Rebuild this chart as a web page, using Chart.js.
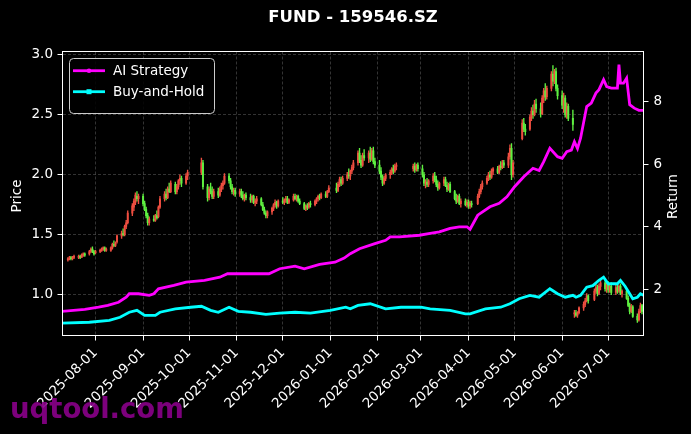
<!DOCTYPE html>
<html>
<head>
<meta charset="utf-8">
<title>FUND - 159546.SZ</title>
<script src="https://cdn.jsdelivr.net/npm/chart.js@4.4.1/dist/chart.umd.min.js"></script>
<style>
  html, body { margin: 0; padding: 0; background: #000; }
  #wrap { width: 691px; height: 434px; }
</style>
</head>
<body>
<div id="wrap"><canvas id="chart" width="691" height="434"></canvas></div>
<script>
// ---- data ----
var chartTitle = 'FUND - 159546.SZ';

// trading calendar
var firstTradeDay = '2025-07-14';
var lastTradeDay = '2026-07-23';
var holidays = ['2025-10-01', '2025-10-02', '2025-10-03', '2025-10-06', '2025-10-07', '2025-10-08',
  '2026-01-01', '2026-01-02', '2026-02-16', '2026-02-17', '2026-02-18', '2026-02-19', '2026-02-20',
  '2026-02-23', '2026-04-06', '2026-05-01', '2026-05-04', '2026-05-05', '2026-06-19'];

// daily candles, one row per month
var open = [
  1.29,1.30,1.31,1.30,1.31, 1.31,1.32,1.31,1.33,1.34, 1.34,1.36,1.38,1.36,
  1.35, 1.36,1.37,1.38,1.39,1.37, 1.37,1.39,1.42,1.41,1.44, 1.49,1.51,1.50,1.57,1.60, 1.68,1.73,1.77,1.82,1.80,
  1.82,1.76,1.71,1.66,1.60, 1.63,1.62,1.66,1.65,1.73, 1.80,1.84,1.81,1.88,1.86, 1.92,1.86,1.90,1.95,1.97, 1.93,1.99,
  2.02,2.10, 1.90,1.81,1.88,1.86,1.82, 1.86,1.83,1.88,1.91,1.93, 1.99,1.95,1.90,1.86,1.87,
  1.84,1.86,1.83,1.80,1.83, 1.81,1.79,1.82,1.77,1.78, 1.80,1.75,1.71,1.68,1.66, 1.69,1.72,1.75,1.77,1.74,
  1.78,1.77,1.79,1.80,1.77, 1.79,1.82,1.80,1.82,1.78, 1.76,1.72,1.74,1.73,1.76, 1.75,1.78,1.80,1.82,1.81, 1.84,1.82,1.86,
  1.89,1.87,1.92,1.96,1.93, 1.97,2.00,1.99,2.03,2.06, 2.10,2.18,2.12,2.08,2.16, 2.14,2.18,2.13,2.20,2.11,
  2.08,2.03,1.98,1.93,1.97, 2.00,2.02,2.05,2.03,2.07, 2.05,2.07,2.04,2.08,
  2.05,2.00,1.93,1.94,1.92, 1.95,1.99,1.96,1.92,1.89, 1.93,1.96,1.91,1.88,1.92, 1.86,1.80,1.78,1.82,1.76, 1.78,1.75,
  1.77,1.74,1.76, 1.76,1.82,1.86,1.90, 1.93,1.97,2.00,1.98,2.03, 2.05,2.02,2.07,2.06,2.10, 2.08,2.15,2.22,2.00,
  2.30,2.43,2.38, 2.38,2.48,2.53,2.50,2.59, 2.55,2.51,2.64,2.70,2.65, 2.72,2.84,2.78,2.86,2.72,
  2.66,2.58,2.64,2.50,2.57, 2.47,0.84,0.85,0.83,0.85, 0.89,0.92,0.95,0.99, 0.96,1.03,1.06,1.01,1.07, 1.10,1.05,
  1.08,1.04,1.07, 1.02,1.06,1.03,1.07,1.01, 1.03,0.97,0.91,0.86,0.90, 0.82,0.79,0.86,0.91
];
var high = [
  1.31,1.32,1.32,1.32,1.33, 1.33,1.33,1.34,1.35,1.35, 1.37,1.39,1.40,1.37,
  1.37, 1.38,1.39,1.40,1.40,1.39, 1.40,1.43,1.45,1.44,1.50, 1.53,1.55,1.58,1.62,1.70, 1.76,1.80,1.85,1.86,1.84,
  1.84,1.78,1.73,1.68,1.65, 1.66,1.67,1.70,1.74,1.82, 1.86,1.88,1.90,1.93,1.95, 1.94,1.92,1.96,2.00,1.99, 2.01,2.04,
  2.14,2.12, 1.92,1.90,1.93,1.90,1.88, 1.89,1.90,1.93,1.95,2.01, 2.01,1.97,1.92,1.89,1.89,
  1.88,1.88,1.86,1.84,1.85, 1.84,1.83,1.83,1.80,1.82, 1.81,1.77,1.73,1.70,1.70, 1.73,1.76,1.79,1.78,1.79,
  1.81,1.80,1.82,1.82,1.80, 1.84,1.84,1.83,1.83,1.80, 1.77,1.75,1.76,1.77,1.78, 1.79,1.81,1.83,1.84,1.85, 1.86,1.87,1.91,
  1.93,1.94,1.98,1.98,1.99, 2.02,2.05,2.04,2.08,2.12, 2.20,2.22,2.16,2.18,2.21, 2.20,2.23,2.22,2.23,2.14,
  2.12,2.06,2.00,1.99,2.01, 2.04,2.06,2.08,2.09,2.10, 2.09,2.10,2.09,2.10,
  2.08,2.02,1.96,1.97,1.96, 2.01,2.02,1.99,1.95,1.94, 1.98,1.98,1.94,1.93,1.94, 1.87,1.84,1.83,1.84,1.80, 1.80,1.79,
  1.79,1.78,1.78, 1.84,1.88,1.92,1.95, 1.99,2.02,2.03,2.05,2.06, 2.07,2.08,2.11,2.12,2.12, 2.18,2.25,2.26,2.12,
  2.46,2.47,2.42, 2.50,2.56,2.58,2.62,2.63, 2.60,2.66,2.72,2.76,2.74, 2.86,2.91,2.88,2.89,2.75,
  2.70,2.68,2.66,2.60,2.59, 2.54,0.87,0.87,0.86,0.90, 0.94,0.97,1.01,1.00, 1.05,1.09,1.08,1.09,1.12, 1.12,1.10,
  1.11,1.09,1.10, 1.08,1.09,1.08,1.09,1.04, 1.05,0.99,0.93,0.92,0.91, 0.84,0.88,0.93,0.92
];
var low = [
  1.28,1.29,1.29,1.29,1.30, 1.30,1.30,1.31,1.32,1.32, 1.33,1.35,1.35,1.33,
  1.34, 1.35,1.36,1.37,1.36,1.36, 1.36,1.38,1.40,1.40,1.43, 1.47,1.49,1.49,1.55,1.59, 1.66,1.70,1.75,1.78,1.76,
  1.74,1.70,1.64,1.58,1.58, 1.61,1.61,1.63,1.64,1.72, 1.78,1.79,1.80,1.85,1.85, 1.84,1.84,1.88,1.92,1.90, 1.92,1.96,
  2.00,1.88, 1.78,1.79,1.84,1.80,1.80, 1.81,1.82,1.86,1.88,1.92, 1.93,1.88,1.84,1.83,1.82,
  1.82,1.81,1.79,1.78,1.79, 1.77,1.77,1.76,1.74,1.76, 1.74,1.70,1.67,1.64,1.64, 1.67,1.70,1.73,1.72,1.73,
  1.76,1.75,1.77,1.76,1.76, 1.78,1.79,1.78,1.77,1.75, 1.71,1.70,1.71,1.72,1.73, 1.74,1.76,1.78,1.79,1.80, 1.81,1.81,1.85,
  1.85,1.86,1.90,1.91,1.92, 1.95,1.97,1.96,2.01,2.04, 2.08,2.10,2.06,2.07,2.12, 2.10,2.11,2.12,2.09,2.06,
  2.01,1.96,1.91,1.92,1.95, 1.97,2.00,2.01,2.02,2.04, 2.03,2.02,2.03,2.03,
  1.98,1.91,1.89,1.90,1.90, 1.93,1.94,1.90,1.87,1.88, 1.91,1.90,1.86,1.87,1.85, 1.79,1.76,1.77,1.75,1.73, 1.74,1.73,
  1.72,1.72,1.73, 1.75,1.81,1.84,1.88, 1.92,1.95,1.96,1.97,2.00, 2.01,2.01,2.04,2.05,2.06, 2.06,2.13,1.96,1.98,
  2.29,2.36,2.33, 2.37,2.45,2.47,2.49,2.52, 2.48,2.50,2.60,2.62,2.63, 2.70,2.74,2.76,2.70,2.63,
  2.55,2.52,2.48,2.47,2.45, 2.37,0.81,0.82,0.81,0.84, 0.87,0.90,0.94,0.93, 0.95,1.01,0.99,1.00,1.04, 1.03,1.02,
  1.02,1.02,1.00, 1.00,1.01,1.02,1.00,0.98, 0.96,0.90,0.84,0.85,0.81, 0.77,0.78,0.85,0.84
];
var close = [
  1.30,1.31,1.30,1.31,1.32, 1.32,1.31,1.33,1.34,1.33, 1.36,1.38,1.36,1.34,
  1.36, 1.37,1.38,1.39,1.37,1.38, 1.39,1.42,1.41,1.43,1.49, 1.51,1.50,1.57,1.60,1.68, 1.74,1.78,1.83,1.80,1.82,
  1.76,1.71,1.66,1.60,1.63, 1.62,1.66,1.64,1.73,1.80, 1.84,1.81,1.88,1.86,1.93, 1.86,1.90,1.95,1.97,1.93, 1.99,2.02,
  2.10,1.90, 1.81,1.88,1.86,1.82,1.86, 1.83,1.88,1.91,1.93,1.99, 1.95,1.90,1.86,1.87,1.84,
  1.86,1.83,1.80,1.83,1.81, 1.79,1.82,1.77,1.78,1.80, 1.75,1.71,1.68,1.66,1.69, 1.72,1.75,1.77,1.74,1.78,
  1.77,1.79,1.80,1.77,1.79, 1.82,1.80,1.82,1.78,1.76, 1.72,1.74,1.73,1.76,1.75, 1.78,1.80,1.82,1.81,1.84, 1.82,1.86,1.89,
  1.87,1.92,1.96,1.93,1.97, 2.00,1.99,2.03,2.06,2.10, 2.18,2.12,2.08,2.16,2.14, 2.18,2.13,2.20,2.11,2.08,
  2.03,1.98,1.93,1.97,2.00, 2.02,2.05,2.03,2.07,2.08, 2.07,2.04,2.08,2.05,
  2.00,1.93,1.94,1.92,1.95, 1.99,1.96,1.92,1.89,1.93, 1.96,1.91,1.88,1.92,1.86, 1.80,1.78,1.82,1.76,1.78, 1.75,1.77,
  1.74,1.76,1.75, 1.82,1.86,1.90,1.93, 1.97,2.00,1.98,2.03,2.05, 2.02,2.07,2.06,2.10,2.08, 2.15,2.22,2.00,2.10,
  2.43,2.38,2.36, 2.48,2.53,2.50,2.59,2.55, 2.51,2.64,2.70,2.65,2.72, 2.84,2.78,2.86,2.72,2.66,
  2.58,2.64,2.50,2.57,2.47, 2.42,0.85,0.83,0.85,0.89, 0.92,0.95,0.99,0.95, 1.03,1.06,1.01,1.07,1.10, 1.05,1.08,
  1.04,1.07,1.02, 1.06,1.03,1.07,1.01,1.03, 0.97,0.91,0.86,0.90,0.82, 0.79,0.86,0.91,0.86
];

// strategy curves (right axis)
var aiDates = ['2025-07-10','2025-07-25','2025-08-03','2025-08-09','2025-08-16','2025-08-21','2025-08-23','2025-08-29',
  '2025-09-05','2025-09-08','2025-09-11','2025-09-21','2025-09-29','2025-10-11','2025-10-21','2025-10-26','2025-11-06',
  '2025-11-22','2025-11-29','2025-12-09','2025-12-15','2025-12-25','2026-01-04','2026-01-10','2026-01-14','2026-01-20',
  '2026-01-30','2026-02-06','2026-02-09','2026-02-15','2026-02-28','2026-03-07','2026-03-13','2026-03-20','2026-03-26',
  '2026-03-31','2026-04-02','2026-04-07','2026-04-15','2026-04-21','2026-04-26','2026-05-01','2026-05-07','2026-05-13',
  '2026-05-17','2026-05-20','2026-05-24','2026-05-29','2026-06-01','2026-06-04','2026-06-07','2026-06-09','2026-06-11',
  '2026-06-13','2026-06-17','2026-06-20','2026-06-23','2026-06-25','2026-06-28','2026-06-30','2026-07-03','2026-07-07',
  '2026-07-08','2026-07-09','2026-07-11','2026-07-13','2026-07-15','2026-07-18','2026-07-21','2026-07-24'];
var aiReturn = [1.30,1.36,1.43,1.49,1.59,1.75,1.86,1.86,
  1.81,1.86,2.02,2.13,2.23,2.29,2.39,2.50,2.50,
  2.50,2.66,2.74,2.66,2.80,2.87,3.00,3.14,3.30,
  3.46,3.57,3.68,3.68,3.73,3.79,3.84,3.95,4.00,
  4.00,3.92,4.37,4.64,4.75,4.96,5.28,5.60,5.87,
  5.80,6.08,6.51,6.24,6.19,6.40,6.45,6.72,6.50,
  6.83,7.84,7.95,8.27,8.38,8.70,8.48,8.43,8.43,
  9.18,8.59,8.59,8.75,7.90,7.79,7.72,7.72];

var bhDates = ['2025-07-10','2025-07-28','2025-08-10','2025-08-17','2025-08-23','2025-08-28','2025-09-02','2025-09-09',
  '2025-09-12','2025-09-22','2025-10-02','2025-10-09','2025-10-15','2025-10-20','2025-10-27','2025-11-02','2025-11-10',
  '2025-11-20','2025-11-29','2025-12-09','2025-12-19','2026-01-01','2026-01-11','2026-01-14','2026-01-19','2026-01-27',
  '2026-02-06','2026-02-16','2026-03-01','2026-03-07','2026-03-20','2026-03-30','2026-04-02','2026-04-12','2026-04-22',
  '2026-04-28','2026-05-04','2026-05-11','2026-05-17','2026-05-24','2026-05-29','2026-06-03','2026-06-08','2026-06-10',
  '2026-06-13','2026-06-17','2026-06-21','2026-06-25','2026-06-28','2026-07-01','2026-07-07','2026-07-09','2026-07-12',
  '2026-07-15','2026-07-17','2026-07-20','2026-07-22','2026-07-24'];
var bhReturn = [0.92,0.95,1.01,1.11,1.27,1.33,1.17,1.17,
  1.27,1.38,1.43,1.46,1.33,1.27,1.43,1.30,1.27,
  1.20,1.24,1.27,1.24,1.33,1.43,1.38,1.49,1.54,
  1.38,1.43,1.43,1.38,1.33,1.22,1.22,1.38,1.43,
  1.54,1.70,1.81,1.75,2.02,1.86,1.75,1.81,1.75,
  1.81,2.07,2.12,2.29,2.39,2.18,2.18,2.29,2.10,
  1.86,1.70,1.75,1.86,1.81];

// axes
var xStart = '2025-07-10', xEnd = '2026-07-24';
var monthTicks = ['2025-08-01','2025-09-01','2025-10-01','2025-11-01','2025-12-01','2026-01-01',
  '2026-02-01','2026-03-01','2026-04-01','2026-05-01','2026-06-01','2026-07-01'];
var priceTicks = [1.0, 1.5, 2.0, 2.5, 3.0];
var returnTicks = [2, 4, 6, 8];

// ---- helpers ----
function dayNum(s) {
  var p = s.split('-');
  return Date.UTC(+p[0], +p[1] - 1, +p[2]) / 86400000;
}
function dayLabel(n) {
  return new Date(Math.round(n) * 86400000).toISOString().slice(0, 10);
}

var tradeDays = [];
for (var d = dayNum(firstTradeDay); d <= dayNum(lastTradeDay); d++) {
  var wd = new Date(d * 86400000).getUTCDay();
  if (wd === 0 || wd === 6) continue;
  if (holidays.indexOf(dayLabel(d)) >= 0) continue;
  tradeDays.push(d);
}
if (tradeDays.length !== close.length) console.log('calendar mismatch', tradeDays.length, close.length);

var UP = '#ee4e40', DOWN = '#5ef040';
var candleColors = [], bodies = [], wicks = [];
for (var i = 0; i < tradeDays.length; i++) {
  candleColors.push(close[i] >= open[i] ? UP : DOWN);
  bodies.push({ x: tradeDays[i], y: [open[i], close[i]] });
  wicks.push({ x: tradeDays[i], y: [low[i], high[i]] });
}
var aiPts = aiDates.map(function (s, k) { return { x: dayNum(s), y: aiReturn[k] }; });
var bhPts = bhDates.map(function (s, k) { return { x: dayNum(s), y: bhReturn[k] }; });

// ---- drawing ----
var FONT = 'DejaVu Sans';
Chart.defaults.font.family = FONT;
Chart.defaults.font.size = 13.5;
Chart.defaults.color = '#ffffff';

var gridCol = 'rgba(200,200,200,0.32)';

var overlay = {
  id: 'overlay',
  afterDatasetsDraw: function (chart) {
    var c = chart.ctx, a = chart.chartArea;
    c.save();
    // spines
    c.strokeStyle = '#ffffff';
    c.lineWidth = 1;
    c.strokeRect(a.left, a.top, a.right - a.left, a.bottom - a.top);

    // legend
    c.beginPath();
    c.roundRect(69.5, 58.5, 145, 55, 4);
    c.fillStyle = 'rgba(0,0,0,0.85)';
    c.fill();
    c.strokeStyle = '#cccccc';
    c.stroke();
    var rows = [['AI Strategy', '#ff00ff', 'circle', 70.7], ['Buy-and-Hold', '#00ffff', 'square', 91.7]];
    rows.forEach(function (r) {
      c.strokeStyle = r[1];
      c.fillStyle = r[1];
      c.lineWidth = 2.8;
      c.beginPath();
      c.moveTo(73, r[3]);
      c.lineTo(105, r[3]);
      c.stroke();
      if (r[2] === 'circle') {
        c.beginPath();
        c.arc(89, r[3], 2.3, 0, Math.PI * 2);
        c.fill();
      } else {
        c.fillRect(86.5, r[3] - 2.5, 5, 5);
      }
      c.fillStyle = '#ffffff';
      c.font = '13.5px "' + FONT + '"';
      c.textAlign = 'left';
      c.textBaseline = 'middle';
      c.fillText(r[0], 113, r[3] + 0.5);
    });
    c.restore();
  },
  afterDraw: function (chart) {
    var c = chart.ctx, a = chart.chartArea;
    c.save();
    c.fillStyle = '#ffffff';
    c.textAlign = 'center';
    c.textBaseline = 'middle';
    c.font = 'bold 16.5px "' + FONT + '"';
    c.fillText(chartTitle, (a.left + a.right) / 2, 18);

    c.font = '13.5px "' + FONT + '"';
    c.save();
    c.translate(17.5, 196);
    c.rotate(-Math.PI / 2);
    c.fillText('Price', 0, 0);
    c.restore();
    c.save();
    c.translate(673.5, 196.5);
    c.rotate(-Math.PI / 2);
    c.fillText('Return', 0, 0);
    c.restore();

    // watermark
    c.fillStyle = 'rgba(135,0,135,0.92)';
    c.font = 'bold 27.5px "' + FONT + '"';
    c.textAlign = 'left';
    c.textBaseline = 'alphabetic';
    c.fillText('uqtool.com', 10, 418);
    c.restore();
  }
};

new Chart(document.getElementById('chart'), {
  type: 'bar',
  data: {
    datasets: [
      { type: 'line', label: 'AI Strategy', data: aiPts, xAxisID: 'x', yAxisID: 'yR',
        borderColor: '#ff00ff', borderWidth: 2.8, pointRadius: 0, tension: 0, order: 0 },
      { type: 'line', label: 'Buy-and-Hold', data: bhPts, xAxisID: 'x', yAxisID: 'yR',
        borderColor: '#00ffff', borderWidth: 2.8, pointRadius: 0, tension: 0, order: 0 },
      { label: 'body', data: bodies, xAxisID: 'x', yAxisID: 'y', backgroundColor: candleColors,
        barThickness: 1.3, minBarLength: 1, grouped: false, order: 1 },
      { label: 'wick', data: wicks, xAxisID: 'x', yAxisID: 'y', backgroundColor: candleColors,
        barThickness: 0.7, grouped: false, order: 2 }
    ]
  },
  options: {
    responsive: false,
    animation: false,
    devicePixelRatio: 1,
    layout: { padding: { top: 51.5, left: 0, right: 0, bottom: 0 } },
    plugins: { legend: { display: false }, tooltip: { enabled: false }, title: { display: false } },
    scales: {
      x: {
        type: 'linear', position: 'bottom', offset: false,
        min: dayNum(xStart) + 0.5, max: dayNum(xEnd),
        afterBuildTicks: function (ax) { ax.ticks = monthTicks.map(function (s) { return { value: dayNum(s) }; }); },
        afterFit: function (ax) { ax.height = 98.5; },
        ticks: { autoSkip: false, minRotation: 45, maxRotation: 45, padding: 4.5, color: '#ffffff',
          callback: function (v) { return dayLabel(v); } },
        grid: { offset: false, color: gridCol, lineWidth: 0.8, tickColor: '#ffffff', tickLength: 5, tickWidth: 1, tickBorderDash: [] },
        border: { display: false, dash: [3, 2] }
      },
      y: {
        type: 'linear', position: 'left', beginAtZero: false,
        min: 0.66, max: 3.0276,
        afterBuildTicks: function (ax) { ax.ticks = priceTicks.map(function (v) { return { value: v }; }); },
        afterFit: function (ax) { ax.width = 62.5; },
        ticks: { padding: 4.5, color: '#ffffff', callback: function (v) { return v.toFixed(1); } },
        grid: { color: gridCol, lineWidth: 0.8, tickColor: '#ffffff', tickLength: 5, tickWidth: 1, tickBorderDash: [] },
        border: { display: false, dash: [3, 2] }
      },
      yR: {
        type: 'linear', position: 'right', beginAtZero: false,
        min: 0.527, max: 9.60,
        afterBuildTicks: function (ax) { ax.ticks = returnTicks.map(function (v) { return { value: v }; }); },
        afterFit: function (ax) { ax.width = 47.5; },
        ticks: { padding: 5, color: '#ffffff', callback: function (v) { return String(v); } },
        grid: { drawOnChartArea: false, tickColor: '#ffffff', tickLength: 5, tickWidth: 1 },
        border: { display: false }
      }
    }
  },
  plugins: [overlay]
});
</script>
</body>
</html>
